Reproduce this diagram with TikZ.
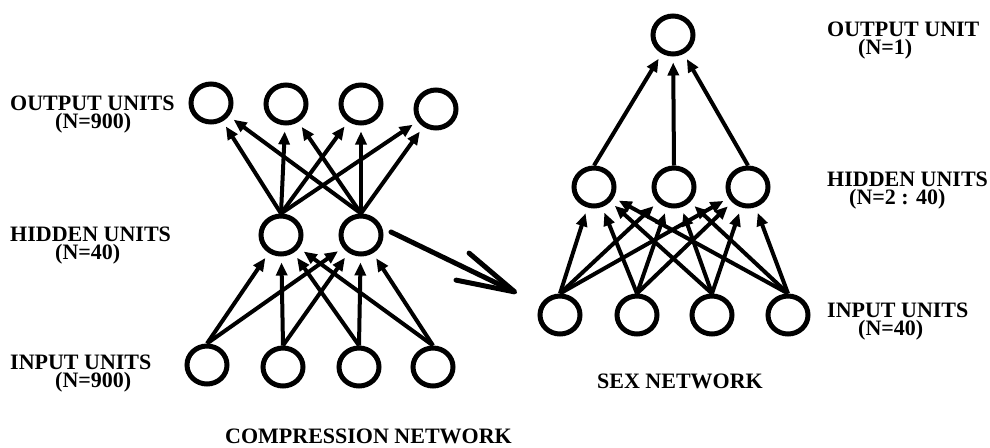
\documentclass[tikz,border=0pt]{standalone}
\usepackage{fontspec}
\setmainfont{Liberation Serif}
\usetikzlibrary{arrows.meta,shapes.geometric}
\begin{document}
\begin{tikzpicture}[x=1pt,y=-1pt,
  unit/.style={ellipse,draw,line width=5pt,minimum width=40pt,minimum height=38pt,inner sep=0pt},
  link/.style={line width=4pt,-{Triangle[length=13pt,width=11pt]},shorten >=6pt},
  lbl/.style={anchor=base west,inner sep=0pt,font=\bfseries\fontsize{22}{22}\selectfont},
  layer/.style={anchor=north west,inner sep=0pt,align=left,font=\bfseries\fontsize{22}{18}\selectfont},
  bigarrow/.style={line width=5pt,line cap=round,-{Straight Barb[length=58pt,width=30pt,round]}}]
\useasboundingbox (0,0) rectangle (990,447);

% compression network
\node[unit] (co1) at (211,103) {};
\node[unit] (co2) at (286,104) {};
\node[unit] (co3) at (361,104) {};
\node[unit] (co4) at (436,109) {};
\node[unit] (ch1) at (281,235) {};
\node[unit] (ch2) at (361,235) {};
\node[unit] (ci1) at (207,365) {};
\node[unit] (ci2) at (283,367) {};
\node[unit] (ci3) at (359,367) {};
\node[unit] (ci4) at (433,367) {};

\foreach \s in {ci1,ci2,ci3,ci4}
  \foreach \t in {ch1,ch2}
    \draw[link] (\s.north) -- (\t);
\foreach \s in {ch1,ch2}
  \foreach \t in {co1,co2,co3,co4}
    \draw[link] (\s.north) -- (\t);

% sex network
\node[unit] (so) at (673,35) {};
\node[unit] (sh1) at (594,187) {};
\node[unit] (sh2) at (674,187) {};
\node[unit] (sh3) at (748,187) {};
\node[unit] (si1) at (560,315) {};
\node[unit] (si2) at (637,315) {};
\node[unit] (si3) at (712,315) {};
\node[unit] (si4) at (788,315) {};

\foreach \s in {si1,si2,si3,si4}
  \foreach \t in {sh1,sh2,sh3}
    \draw[link] (\s.north) -- (\t);
\foreach \s in {sh1,sh2,sh3}
  \draw[link] (\s.north) -- (so);

% hidden code passed on to the second network
\draw[bigarrow] ([xshift=7.5pt,yshift=3pt]ch2.east) -- ([xshift=-20.5pt,yshift=22pt]si1.west);

% layer labels (two lines each, top edge given)
\node[layer] (lo) at (10,96) {OUTPUT UNITS\\\hspace*{45pt}(N=900)};
\node[layer] (lh) at (10,227) {HIDDEN UNITS\\\hspace*{45pt}(N=40)};
\node[layer] (li) at (10,355) {INPUT UNITS\\\hspace*{45pt}(N=900)};

\node[layer] (ro) at (827,22) {OUTPUT UNIT\\\hspace*{31pt}(N=1)};
\node[layer] (rh) at (827,172) {HIDDEN UNITS\\\hspace*{22pt}(N=2 : 40)};
\node[layer] (ri) at (827,303) {INPUT UNITS\\\hspace*{31pt}(N=40)};

\node[lbl] (tsex) at (597,388) {SEX NETWORK};
\node[lbl] (tcomp) at (225,443.5) {COMPRESSION NETWORK};
\end{tikzpicture}
\end{document}
